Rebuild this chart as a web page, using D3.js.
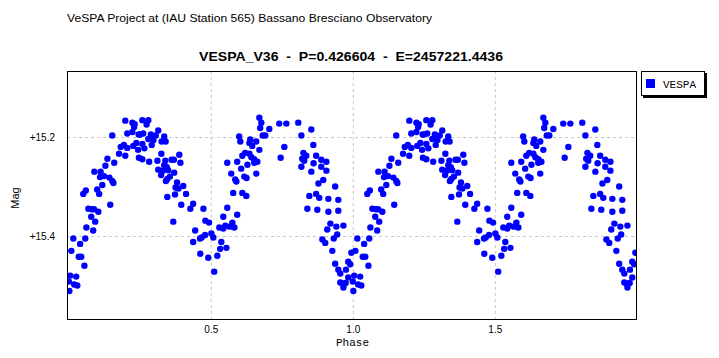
<!DOCTYPE html>
<html><head><meta charset="utf-8">
<script src="https://cdn.jsdelivr.net/npm/d3@7"></script>
<style>body{margin:0;background:#fff;} svg{display:block;}</style>
</head><body><svg id="c" width="719" height="358"></svg>
<script>
// Phase-folded light curve (phase 0..1, repeated at 1..2)
const phase = [
0.199,0.224,0.232,0.230,0.206,0.224,0.246,0.153,0.183,0.194,0.206,0.227,0.238,0.244,0.177,0.199,0.247,0.136,0.160,0.129,0.090,0.112,0.110,0.124,0.143,0.153,0.157,0.118,0.060,0.051,0.100,0.107,0.146,0.069,0.082,0.089,0.104,0.079,0.093,0.062,0.086,0.016,0.058,0.040,0.009,0.035,0.044,0.055,0.005,0.026,0.000,0.019,0.030,0.002,
0.259,0.280,0.274,0.251,0.262,0.289,0.315,0.306,0.336,0.280,0.298,0.327,0.341,0.259,0.292,0.266,0.326,0.389,0.259,0.283,0.312,0.340,0.362,0.370,0.393,0.336,0.345,0.315,0.331,0.350,0.371,0.325,0.356,0.347,0.342,0.381,0.403,0.376,0.386,0.374,0.413,0.347,0.396,0.438,0.428,0.474,0.368,0.481,0.494,0.445,0.480,0.468,0.462,0.438,0.463,0.491,
0.502,0.509,0.512,0.523,0.533,0.555,0.537,0.530,0.544,0.551,0.565,0.576,0.583,0.575,0.544,0.558,0.593,0.579,0.611,0.625,0.572,0.586,0.590,0.618,0.626,0.660,0.558,0.593,0.607,0.629,0.611,0.621,0.636,0.643,0.653,0.653,0.664,0.671,0.600,0.604,0.636,0.639,0.646,0.660,0.671,0.678,0.674,0.683,0.692,0.706,0.741,0.746,
0.766,0.808,0.854,0.819,0.759,0.861,0.826,0.836,0.822,0.829,0.871,0.862,0.889,0.907,0.819,0.854,0.889,0.907,0.896,0.879,0.938,0.847,0.871,0.882,0.914,0.949,0.840,0.875,0.914,0.949,0.921,0.910,0.942,0.967,0.893,0.903,0.933,0.945,0.928,0.995,0.938,0.984,0.991,0.949,0.976,0.956,0.984,0.956,0.964,0.975,0.967
];
const mag = [
15.167,15.171,15.174,15.180,15.193,15.190,15.195,15.197,15.220,15.216,15.222,15.218,15.212,15.226,15.234,15.238,15.242,15.244,15.252,15.258,15.270,15.270,15.281,15.279,15.282,15.289,15.293,15.297,15.308,15.315,15.306,15.315,15.337,15.345,15.346,15.346,15.351,15.361,15.371,15.383,15.389,15.405,15.405,15.416,15.430,15.442,15.442,15.460,15.480,15.482,15.492,15.498,15.500,15.511,
15.166,15.166,15.175,15.195,15.193,15.195,15.187,15.197,15.199,15.204,15.206,15.209,15.209,15.214,15.216,15.223,15.234,15.236,15.245,15.250,15.248,15.248,15.246,15.246,15.252,15.257,15.261,15.266,15.268,15.267,15.272,15.277,15.280,15.285,15.289,15.292,15.299,15.302,15.304,15.316,15.315,15.321,15.337,15.335,15.345,15.345,15.371,15.369,15.373,15.389,15.398,15.403,15.405,15.412,15.436,15.444,
15.395,15.403,15.472,15.440,15.426,15.424,15.412,15.383,15.385,15.379,15.381,15.373,15.383,15.381,15.361,15.343,15.357,15.313,15.313,15.319,15.274,15.286,15.290,15.280,15.283,15.274,15.252,15.250,15.264,15.256,15.238,15.232,15.234,15.241,15.245,15.252,15.250,15.226,15.199,15.209,15.212,15.205,15.218,15.209,15.161,15.171,15.182,15.197,15.197,15.184,15.173,15.242,
15.173,15.171,15.185,15.197,15.220,15.216,15.232,15.238,15.244,15.248,15.238,15.253,15.246,15.250,15.260,15.270,15.260,15.268,15.287,15.294,15.300,15.319,15.315,15.323,15.325,15.327,15.345,15.347,15.351,15.349,15.375,15.387,15.381,15.379,15.407,15.414,15.405,15.397,15.430,15.434,15.456,15.452,15.457,15.468,15.468,15.476,15.484,15.494,15.496,15.495,15.504
];
const cycles = [0, 1];
const xTickValues = [0.5, 1.0, 1.5];
const yTickValues = [15.2, 15.4];
const seriesName = "VESPA";
const subtitle = "VeSPA Project at (IAU Station 565) Bassano Bresciano Observatory";
const title = "VESPA_V36  -  P=0.426604  -  E=2457221.4436";
const xLabel = "Phase", yLabel = "Mag";

const svg = d3.select("#c");
const L = 67, R = 636, T = 71, B = 319;
const x = d3.scaleLinear().domain([-0.0063, 1.9972]).range([L, R]);
const y = d3.scaleLinear().domain([15.0667, 15.5677]).range([T, B]);
const sans = "'Liberation Sans', Arial, sans-serif";
const mono = "'Courier New', Courier, 'Nimbus Mono PS', FreeMono, 'Liberation Mono', monospace";

svg.append("rect").attr("width", 719).attr("height", 358).attr("fill", "#fff");

// gridlines
svg.append("g").attr("transform", `translate(0,${T})`)
  .call(d3.axisBottom(x).tickValues(xTickValues).tickSize(B - T).tickFormat(""))
  .call(g => g.select(".domain").remove())
  .selectAll("line").attr("stroke", "#c8c8c8").attr("stroke-dasharray", "3,3");
svg.append("g").attr("transform", `translate(${L},0)`)
  .call(d3.axisLeft(y).tickValues(yTickValues).tickSize(-(R - L)).tickFormat(""))
  .call(g => g.select(".domain").remove())
  .selectAll("line").attr("stroke", "#c8c8c8").attr("stroke-dasharray", "3,3");

// points
svg.append("clipPath").attr("id", "clip").append("rect")
  .attr("x", L).attr("y", T).attr("width", R - L).attr("height", B - T);
const pts = [];
cycles.forEach(c => phase.forEach((p, i) => pts.push({p: p + c, m: mag[i]})));
svg.append("g").attr("clip-path", "url(#clip)")
  .selectAll("circle").data(pts).join("circle")
  .attr("cx", d => x(d.p)).attr("cy", d => y(d.m)).attr("r", 3.2).attr("fill", "#0000ff");

// frame
svg.append("rect").attr("x", L + 0.5).attr("y", T + 0.5).attr("width", R - L).attr("height", B - T)
  .attr("fill", "none").attr("stroke", "#000");

// axis labels
const xa = svg.append("g").attr("transform", `translate(0,${B})`)
  .call(d3.axisBottom(x).tickValues(xTickValues).tickSize(0).tickPadding(7).tickFormat(d3.format(".1f")));
xa.select(".domain").remove();
xa.selectAll("text").attr("font-family", sans).attr("font-size", 10).attr("fill", "#000");
const ya = svg.append("g").attr("transform", `translate(${L},0)`)
  .call(d3.axisLeft(y).tickValues(yTickValues).tickSize(0).tickPadding(12).tickFormat(d => "+" + d.toFixed(1)));
ya.select(".domain").remove();
ya.selectAll("text").attr("font-family", sans).attr("font-size", 10).attr("fill", "#000");

svg.append("text").attr("x", 352.5).attr("y", 346).attr("text-anchor", "middle")
  .attr("font-family", mono).attr("font-size", 11).text(xLabel);
svg.append("text").attr("transform", "translate(19,198) rotate(-90)").attr("text-anchor", "middle")
  .attr("font-family", sans).attr("font-size", 11).text(yLabel);

// titles
svg.append("text").attr("x", 67).attr("y", 22).attr("font-family", sans).attr("font-size", 11)
  .attr("textLength", 365).attr("lengthAdjust", "spacingAndGlyphs").text(subtitle);
svg.append("text").attr("x", 199).attr("y", 61).attr("font-family", sans).attr("font-size", 12)
  .attr("font-weight", "bold").attr("textLength", 304).attr("lengthAdjust", "spacingAndGlyphs")
  .style("white-space", "pre").attr("xml:space", "preserve").text(title);

// legend
svg.append("rect").attr("x", 643).attr("y", 73).attr("width", 64).attr("height", 25).attr("fill", "#000");
svg.append("rect").attr("x", 641.5).attr("y", 71.5).attr("width", 63).attr("height", 24)
  .attr("fill", "#fff").attr("stroke", "#000");
svg.append("rect").attr("x", 646).attr("y", 79).attr("width", 9).attr("height", 9).attr("fill", "#0000ff");
svg.append("text").attr("x", 663).attr("y", 87.5).attr("font-family", mono).attr("font-size", 11).text(seriesName);
</script></body></html>
